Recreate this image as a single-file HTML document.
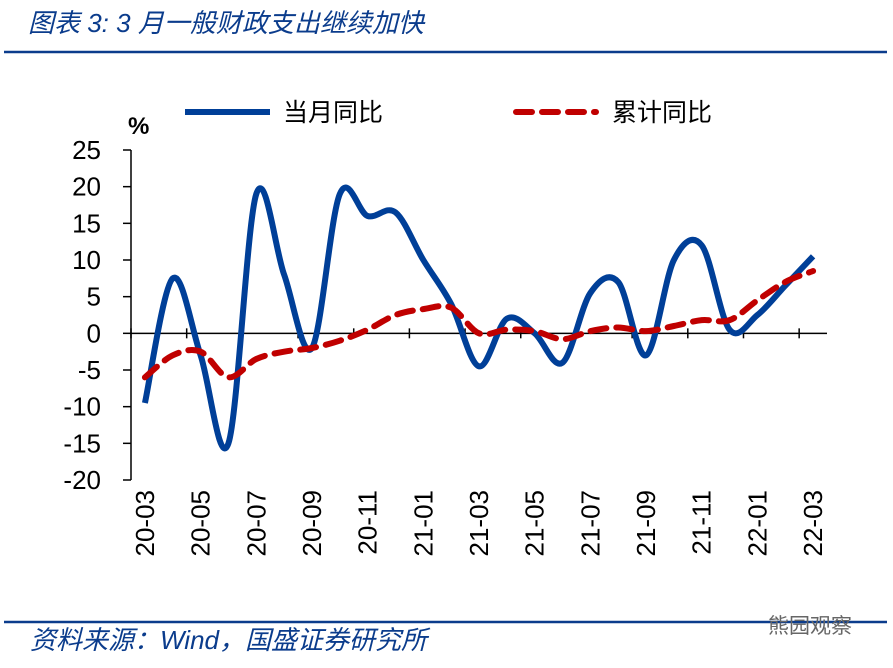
<!DOCTYPE html>
<html><head><meta charset="utf-8"><style>
body{margin:0;background:#fff;width:893px;height:663px;overflow:hidden;font-family:"Liberation Sans","Noto Sans CJK SC",sans-serif}
</style></head><body>
<svg width="893" height="663" xmlns="http://www.w3.org/2000/svg">
<text x="28" y="32" font-size="26" font-style="italic" fill="#0b3c8c" font-family="Liberation Sans,Noto Sans CJK SC,sans-serif">图表 3:  3 月一般财政支出继续加快</text>
<line x1="4" y1="52" x2="887" y2="52" stroke="#0b3c8c" stroke-width="2.5"/>
<line x1="4" y1="622" x2="887" y2="622" stroke="#0b3c8c" stroke-width="2.5"/>
<text x="30" y="649" font-size="26" font-style="italic" fill="#0b3c8c" font-family="Liberation Sans,Noto Sans CJK SC,sans-serif">资料来源：Wind，国盛证券研究所</text>
<text x="768" y="633" font-size="21" fill="#666" font-family="Noto Sans CJK SC,sans-serif">熊园观察</text>
<g id="plot"></g>
</svg>
<script>
const categories=["20-03","20-04","20-05","20-06","20-07","20-08","20-09","20-10","20-11","20-12","21-01","21-02","21-03","21-04","21-05","21-06","21-07","21-08","21-09","21-10","21-11","21-12","22-01","22-02","22-03"];
const monthly=[-9.5,7.5,-3,-15,19,8,-2,19,16,16.5,10,4,-4.5,2,0,-4,5.5,7,-3,10,12,0.5,2.5,6.5,10.5];
const cumulative=[-6,-3,-2.5,-6,-3.5,-2.5,-2,-1,0.5,2.5,3.3,3.5,0,0.5,0.3,-0.8,0.3,0.8,0.3,1,1.8,1.8,4.5,7,8.5];
const yTicks=[25,20,15,10,5,0,-5,-10,-15,-20];
const X0=131,X1=827,YT=150,YB=480,YMAX=25,YMIN=-20;
const step=(X1-X0)/categories.length;
const x=i=>X0+step*(i+0.5);
const y=v=>YT+(YMAX-v)/(YMAX-YMIN)*(YB-YT);
const ns="http://www.w3.org/2000/svg",g=document.getElementById('plot');
function mk(t,a){const e=document.createElementNS(ns,t);for(const k in a)e.setAttribute(k,a[k]);g.appendChild(e);return e;}
let e=mk('line',{x1:X0,y1:YT,x2:X0,y2:YB,stroke:'#000','stroke-width':1.5});


yTicks.forEach(v=>{
 let t=mk('line',{x1:X0-8,y1:y(v),x2:X0,y2:y(v),stroke:'#000','stroke-width':1.5});
 
 
 let l=mk('text',{x:101,y:y(v)+9,'text-anchor':'end','font-size':26});l.textContent=v;
 
 
});
e=mk('line',{x1:X0,y1:y(0),x2:X1,y2:y(0),stroke:'#000','stroke-width':1.5});


for(let k=0;k<=categories.length;k+=2){
 let t=mk('line',{x1:X0+k*step,y1:y(0)-5,x2:X0+k*step,y2:y(0)+5,stroke:'#000','stroke-width':1.5});
 
 
}
categories.forEach((c,i)=>{ if(i%2)return;
 let l=mk('text',{x:0,y:0,'text-anchor':'end','font-size':26,transform:`translate(${x(i)+9},490) rotate(-90)`});l.textContent=c;
 
 
});
function path(vals){const p=vals.map((v,i)=>[x(i),y(v)]);let d=`M${p[0][0]},${p[0][1]}`;
 for(let i=0;i<p.length-1;i++){const a=p[Math.max(0,i-1)],b=p[i],c=p[i+1],n=p[Math.min(p.length-1,i+2)];
 d+=` C${b[0]+(c[0]-a[0])/6},${b[1]+(c[1]-a[1])/6} ${c[0]-(n[0]-b[0])/6},${c[1]-(n[1]-b[1])/6} ${c[0]},${c[1]}`;}return d;}
e=mk('path',{d:path(monthly),fill:'none',stroke:'#003f98','stroke-width':6,'stroke-linejoin':'round'});


e=mk('path',{d:path(cumulative),fill:'none',stroke:'#c00000','stroke-width':6,'stroke-dasharray':'16,10','stroke-linecap':'round'});


e=mk('text',{x:128,y:134,'font-size':24,'font-weight':'bold'});e.textContent='%';


e=mk('line',{x1:185,y1:112,x2:270,y2:112,stroke:'#003f98','stroke-width':6});


e=mk('text',{x:283,y:121,'font-size':25});e.textContent='当月同比';


e=mk('line',{x1:516,y1:112,x2:596,y2:112,stroke:'#c00000','stroke-width':6,'stroke-dasharray':'16,10','stroke-linecap':'round'});


e=mk('text',{x:612,y:121,'font-size':25});e.textContent='累计同比';


</script>
</body></html>
